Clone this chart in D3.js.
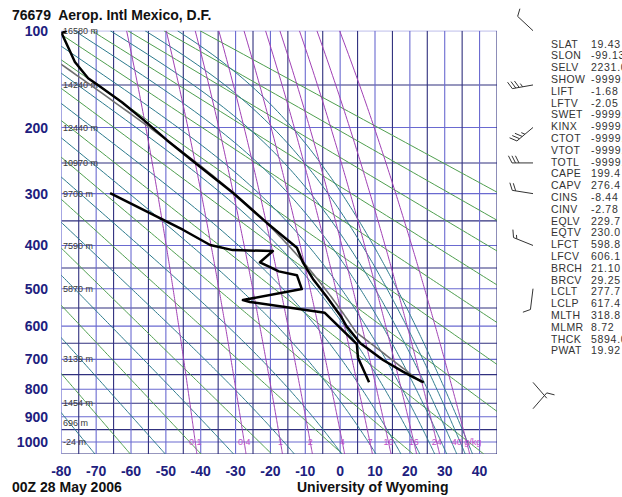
<!DOCTYPE html>
<html><head><meta charset="utf-8">
<script src="https://cdn.jsdelivr.net/npm/d3@7"></script>
<style>
body{margin:0;background:#fff}
svg{display:block}
text{font-family:"Liberation Sans",Arial,Helvetica,sans-serif}
</style>
</head><body>
<svg id="c" width="622" height="497"></svg>
<script>
// ---------------- data ----------------
const stationTitle = "76679  Aerop. Intl Mexico, D.F.";
const dateLabel = "00Z 28 May 2006";
const sourceLabel = "University of Wyoming";

const pressureTicks = [100, 200, 300, 400, 500, 600, 700, 800, 900, 1000];
const tempTicks = [-80, -70, -60, -50, -40, -30, -20, -10, 0, 10, 20, 30, 40];

const heightLevels = [100, 150, 200, 250, 300, 400, 500, 700, 850, 925, 1000];
const heightLabels = ["16580 m", "14240 m", "12440 m", "10970 m", "9700 m", "7590 m", "5870 m", "3139 m", "1454 m", "696 m", "-24 m"];

// temperature profile (hPa, degC)
const tempP = [776, 760, 740, 702, 650, 600, 574, 521, 476, 465, 437, 405, 354, 299, 256, 217, 190, 169, 150, 143, 127, 114, 102, 100];
const tempC = [24.0, 21.2, 18.0, 12.3, 5.8, 1.8, 0.3, -3.8, -7.8, -8.6, -10.7, -12.4, -21.0, -30.7, -40.2, -49.7, -56.5, -62.6, -69.5, -72.3, -76.1, -78.0, -79.9, -78.5];

// dewpoint profile (hPa, degC)
const dewP = [776, 694, 653, 563, 534, 529, 501, 467, 458, 448, 437, 412, 410, 399, 368, 299];
const dewC = [8.3, 5.1, 4.8, -4.4, -25.9, -27.9, -11.0, -12.4, -17.6, -20.1, -23.0, -19.3, -30.8, -37.3, -45.0, -66.0];

// mixing ratio lines (g/kg)
const mixRatios = [0.1, 0.4, 1, 2, 4, 7, 10, 16, 24, 40];
const mixLabels = ["0.1", "0.4", "1", "2", "4", "7", "10", "16", "24", "40 g/kg"];

// dry adiabats (theta, K) and saturated adiabats (theta-e, K)
const dryThetas = [210, 230, 250, 270, 290, 310, 330, 350, 370, 390, 410, 430, 450];
const moistThetaE = [200, 220, 240, 260, 280, 300, 320, 340, 360, 380, 400, 420, 440];

// mixed-layer parcel
const parcelSurfaceP = 776;
const parcelTheta = 318.8;
const parcelLclP = 617.4;
const parcelLclT = 277.7;

// wind barbs
const windP = [100, 150, 200, 250, 300, 400, 500, 776, 870];
const windDir = [313, 260, 230, 270, 279, 292, 187, 139, 41];
const windSpd = [10, 35, 35, 30, 20, 15, 10, 2, 10];

// station parameters
const paramNames = ["SLAT","SLON","SELV","SHOW","LIFT","LFTV","SWET","KINX","CTOT","VTOT","TOTL","CAPE","CAPV","CINS","CINV","EQLV","EQTV","LFCT","LFCV","BRCH","BRCV","LCLT","LCLP","MLTH","MLMR","THCK","PWAT"];
const paramValues = ["19.43","-99.13","2231.0","-9999.00","-1.68","-2.05","-9999.00","-9999.00","-9999.00","-9999.00","-9999.00","199.4","276.4","-8.44","-2.78","229.7","230.0","598.8","606.1","21.10","29.25","277.7","617.4","318.8","8.72","5894.0","19.92"];

// ---------------- scales ----------------
const svg = d3.select("#c");
const x = d3.scaleLinear().domain([-80, 45]).range([61.3, 497]);
const y = d3.scalePow().exponent(0.286).domain([100, 1050]).range([30.7, 454]);
const pTop = 100, pBot = 1050;

svg.append("defs").append("clipPath").attr("id", "plot")
  .append("rect").attr("x", x(-80)).attr("y", y(pTop))
  .attr("width", x(45) - x(-80)).attr("height", y(pBot) - y(pTop));

// ---------------- thermodynamics ----------------
const es = tc => 6.112 * Math.exp(17.67 * tc / (tc + 243.5));
function thetaE(tk, p) {
  const e = es(tk - 273.15);
  if (e >= p * 0.6) return Infinity;
  const r = 622 * e / (p - e);
  return tk * Math.pow(1000 / p, 0.2854 * (1 - 0.00028 * r)) *
    Math.exp((3.376 / tk - 0.00254) * r * (1 + 0.00081 * r));
}
function solveT(the, p) {
  let lo = 120, hi = 345;
  for (let i = 0; i < 60; i++) {
    const m = (lo + hi) / 2;
    if (thetaE(m, p) < the) lo = m; else hi = m;
  }
  return (lo + hi) / 2;
}
const pLevels = d3.range(pBot, pTop - 0.1, -5);
const line = d3.line().x(d => x(d.t)).y(d => y(d.p));

const bg = svg.append("g").attr("clip-path", "url(#plot)");

// grid: isobars and isotherms
const isobars = d3.range(pTop, pBot + 1, 50);
bg.selectAll(".isobar").data(isobars).join("line")
  .attr("x1", x(-80)).attr("x2", x(45))
  .attr("y1", d => y(d)).attr("y2", d => y(d))
  .attr("stroke", d => d % 100 === 0 ? "#6a6ad0" : "#30307e").attr("stroke-width", 1.1);
const isotherms = d3.range(-80, 46, 5);
bg.selectAll(".isotherm").data(isotherms).join("line")
  .attr("x1", d => x(d)).attr("x2", d => x(d))
  .attr("y1", y(pTop)).attr("y2", y(pBot))
  .attr("stroke", d => d % 10 === 0 ? "#6a6ad0" : "#30307e").attr("stroke-width", 1.1);

// dry adiabats
bg.selectAll(".dry").data(dryThetas).join("path")
  .attr("d", th => line(pLevels.map(p => ({p, t: th * Math.pow(p / 1000, 0.286) - 273.15}))))
  .attr("fill", "none").attr("stroke", "#4e9e4e").attr("stroke-width", 1);

// saturated adiabats
bg.selectAll(".moist").data(moistThetaE).join("path")
  .attr("d", the => line(pLevels.map(p => ({p, t: solveT(the, p) - 273.15}))))
  .attr("fill", "none").attr("stroke", "#2c7a8c").attr("stroke-width", 1);

// mixing ratio lines
const mixT = (w, p) => { const e = p * w / (622 + w); const l = Math.log(e / 6.112); return 243.5 * l / (17.67 - l); };
bg.selectAll(".mix").data(mixRatios).join("path")
  .attr("d", w => line(pLevels.map(p => ({p, t: mixT(w, p)}))))
  .attr("fill", "none").attr("stroke", "#a040b4").attr("stroke-width", 1);

// mixing ratio labels
svg.selectAll(".mixlab").data(mixRatios).join("text")
  .attr("x", w => x(mixT(w, 1000))).attr("y", y(1000))
  .attr("dy", "0.35em").attr("text-anchor", "middle")
  .attr("font-size", 9).attr("fill", "#c24ac8")
  .text((w, i) => mixLabels[i]);

// height labels
svg.selectAll(".hgt").data(heightLevels).join("text")
  .attr("x", 63).attr("y", p => y(p)).attr("dy", "0.35em")
  .attr("font-size", 9).attr("fill", "#3a3a3a")
  .text((p, i) => heightLabels[i]);

// ---------------- sounding ----------------
const sd = svg.append("g").attr("clip-path", "url(#plot)");
// parcel path
const parcelPts = [];
for (let p = parcelSurfaceP; p > parcelLclP; p -= 4) parcelPts.push({p, t: parcelTheta * Math.pow(p / 1000, 0.286) - 273.15});
parcelPts.push({p: parcelLclP, t: parcelLclT - 273.15});
const parcelThE = thetaE(parcelLclT, parcelLclP);
for (let p = 615; p >= pTop; p -= 5) parcelPts.push({p, t: solveT(parcelThE, p) - 273.15});
sd.append("path").attr("d", line(parcelPts)).attr("fill", "none")
  .attr("stroke", "#6f6f6f").attr("stroke-width", 1.6);

sd.append("path").attr("d", line(tempP.map((p, i) => ({p, t: tempC[i]}))))
  .attr("fill", "none").attr("stroke", "#000").attr("stroke-width", 2.5).attr("stroke-linejoin", "round");
sd.append("path").attr("d", line(dewP.map((p, i) => ({p, t: dewC[i]}))))
  .attr("fill", "none").attr("stroke", "#000").attr("stroke-width", 2.5).attr("stroke-linejoin", "round");

// ---------------- axes labels ----------------
svg.selectAll(".ptick").data(pressureTicks).join("text")
  .attr("x", 48).attr("y", p => y(p)).attr("dy", "0.36em")
  .attr("text-anchor", "end").attr("font-size", 14).attr("font-weight", "bold")
  .attr("fill", "#20207e").text(p => p);
svg.selectAll(".ttick").data(tempTicks).join("text")
  .attr("x", t => x(t)).attr("y", 476)
  .attr("text-anchor", "middle").attr("font-size", 14).attr("font-weight", "bold")
  .attr("fill", "#20207e").text(t => t);

svg.append("text").attr("x", 12).attr("y", 20).attr("font-size", 14).attr("font-weight", "bold")
  .attr("fill", "#111").attr("xml:space", "preserve").style("white-space", "pre").text(stationTitle);
svg.append("text").attr("x", 12).attr("y", 492).attr("font-size", 14).attr("font-weight", "bold")
  .attr("fill", "#111").text(dateLabel);
svg.append("text").attr("x", 297).attr("y", 492).attr("font-size", 14).attr("font-weight", "bold")
  .attr("fill", "#111").text(sourceLabel);

// ---------------- wind barbs ----------------
const wb = svg.append("g").attr("stroke", "#333").attr("stroke-width", 1).attr("fill", "none");
windP.forEach((p, i) => {
  const bx = 533, by = y(p);
  const a = windDir[i] * Math.PI / 180;
  const ux = Math.sin(a), uy = -Math.cos(a);
  const L = 21;
  const ex = bx + ux * L, ey = by + uy * L;
  let d = `M${bx},${by}L${ex},${ey}`;
  const px = -uy, py = ux;
  let fx = px * 0.9 + ux * 0.45, fy = py * 0.9 + uy * 0.45;
  const fn = Math.hypot(fx, fy); fx /= fn; fy /= fn;
  let s = Math.round(windSpd[i] / 5) * 5;
  let k = 0;
  const n10 = Math.floor(s / 10), n5 = (s % 10) >= 5 ? 1 : 0;
  for (let j = 0; j < n10; j++, k++) {
    const qx = ex - ux * k * 3.5, qy = ey - uy * k * 3.5;
    d += `M${qx},${qy}L${qx + fx * 8},${qy + fy * 8}`;
  }
  if (n5) {
    if (k === 0) k = 1;
    const qx = ex - ux * k * 3.5, qy = ey - uy * k * 3.5;
    d += `M${qx},${qy}L${qx + fx * 4},${qy + fy * 4}`;
  }
  wb.append("path").attr("d", d);
});

// ---------------- station parameters ----------------
const pg = svg.append("g").attr("font-size", 10.5).attr("fill", "#333");
paramNames.forEach((n, i) => {
  const yy = 44 + i * 11.8;
  pg.append("text").attr("x", 551).attr("y", yy).attr("dy", "0.35em")
    .attr("letter-spacing", 0.4).text(n);
  pg.append("text").attr("x", 591).attr("y", yy).attr("dy", "0.35em")
    .attr("letter-spacing", 0.7).text(paramValues[i]);
});
</script>
</body></html>
